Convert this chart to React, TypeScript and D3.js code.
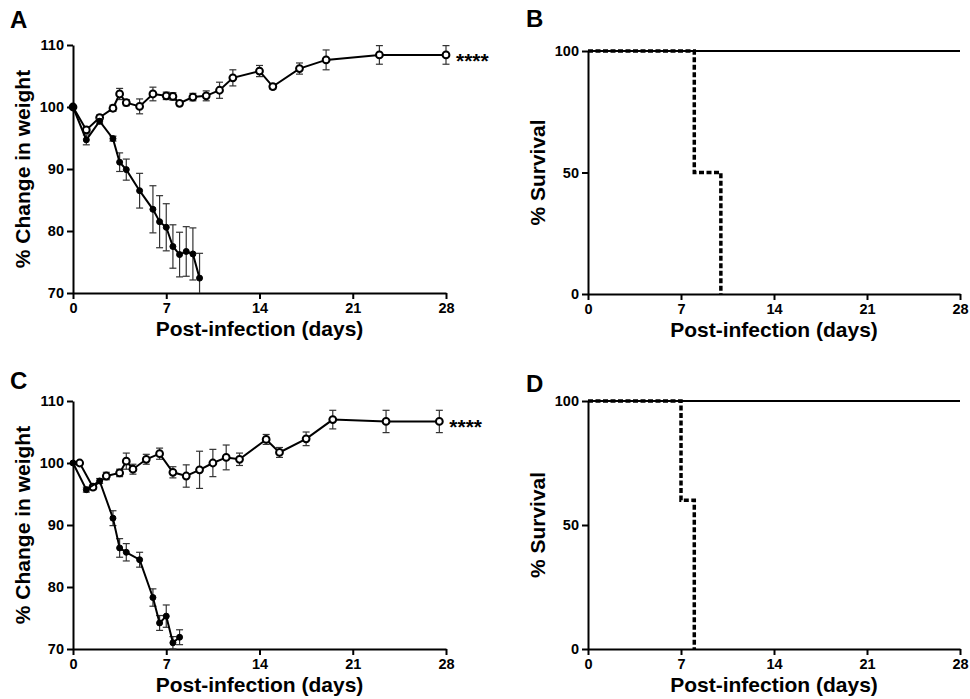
import React, { useEffect, useRef } from "react";
import * as d3 from "d3";

const W = 970;
const H = 699;
const FONT = "'Liberation Sans', Arial, Helvetica, sans-serif";

const dayTicks = [0, 7, 14, 21, 28];
const weightTicks = [70, 80, 90, 100, 110];
const survivalTicks = [0, 50, 100];

// panel A - weight, survivors (open) and non-survivors (filled)
const aOpenDays = [0, 1, 2, 3, 3.5, 4, 5, 6, 7, 7.5, 8, 9, 10, 11, 12, 14, 15, 17, 19, 23, 28];
const aOpenWeight = [100, 96.3, 98.3, 99.8, 102.1, 100.7, 100.1, 102.1, 101.8, 101.7, 100.6, 101.6, 101.8, 102.7, 104.7, 105.8, 103.3, 106.2, 107.6, 108.4, 108.4];
const aOpenSem = [0, 0.5, 0.4, 0.5, 0.9, 0.5, 1.2, 1.1, 0.6, 0.6, 0.4, 0.6, 0.8, 1.3, 1.3, 0.9, 0.4, 0.9, 1.6, 1.5, 1.5];

const aFilledDays = [0, 1, 2, 3, 3.5, 4, 5, 6, 6.5, 7, 7.5, 8, 8.5, 9, 9.5];
const aFilledWeight = [100, 94.7, 97.7, 94.9, 91.1, 89.9, 86.5, 83.5, 81.5, 80.6, 77.5, 76.2, 76.7, 76.3, 72.4];
const aFilledSem = [0, 0.8, 0.4, 0.4, 1.5, 1.7, 2.8, 3.8, 4.2, 3.8, 3.5, 3.6, 4.0, 4.2, 4.0];

// panel C
const cOpenDays = [0.5, 1.5, 2.5, 3.5, 4, 4.5, 5.5, 6.5, 7.5, 8.5, 9.5, 10.5, 11.5, 12.5, 14.5, 15.5, 17.5, 19.5, 23.5, 27.5];
const cOpenWeight = [100, 96.1, 97.9, 98.4, 100.3, 99.0, 100.6, 101.5, 98.5, 97.9, 98.9, 100.0, 100.9, 100.6, 103.8, 101.7, 103.9, 107.0, 106.7, 106.7];
const cOpenSem = [0, 0.4, 0.6, 0.6, 1.3, 0.8, 0.8, 0.9, 0.9, 1.8, 3.0, 2.2, 2.0, 1.0, 0.8, 0.8, 1.1, 1.5, 1.8, 1.8];

const cFilledDays = [0, 1, 2, 3, 3.5, 4, 5, 6, 6.5, 7, 7.5, 8];
const cFilledWeight = [100, 95.7, 97.1, 91.1, 86.3, 85.6, 84.4, 78.3, 74.2, 75.3, 71.0, 71.9];
const cFilledSem = [0, 0.4, 0.4, 1.2, 1.5, 1.4, 1.2, 1.4, 1.2, 1.8, 1.0, 1.2];

// survival curves (B and D)
const controlDays = [0, 28];
const controlSurvival = [100, 100];
const bDays = [0, 8, 10];
const bSurvival = [100, 50, 0];
const dDays = [0, 7, 8];
const dSurvival = [100, 60, 0];

const styleAxis = (g) => {
  g.select(".domain").attr("stroke", "#000").attr("stroke-width", 2);
  g.selectAll(".tick line").attr("stroke", "#000").attr("stroke-width", 2);
  g.selectAll(".tick text")
    .attr("fill", "#000")
    .attr("font-family", FONT)
    .attr("font-weight", "bold")
    .attr("font-size", 14.5);
};

function drawFrame(svg, box, x, y, yTicks, yTitle, letter, letterPos) {
  const g = svg.append("g");

  g.append("g")
    .attr("transform", `translate(0,${box.bottom})`)
    .call(d3.axisBottom(x).tickValues(dayTicks).tickSize(6).tickSizeOuter(0).tickPadding(4))
    .call(styleAxis);

  g.append("g")
    .attr("transform", `translate(${box.left},0)`)
    .call(d3.axisLeft(y).tickValues(yTicks).tickSize(6).tickSizeOuter(0).tickPadding(3))
    .call(styleAxis);

  g.append("text")
    .attr("x", (box.left + box.right) / 2)
    .attr("y", box.bottom + 43)
    .attr("text-anchor", "middle")
    .attr("font-family", FONT)
    .attr("font-weight", "bold")
    .attr("font-size", 21)
    .text("Post-infection (days)");

  g.append("text")
    .attr("transform", `translate(${box.left - 43},${(box.top + box.bottom) / 2}) rotate(-90)`)
    .attr("text-anchor", "middle")
    .attr("font-family", FONT)
    .attr("font-weight", "bold")
    .attr("font-size", 21)
    .text(yTitle);

  g.append("text")
    .attr("x", letterPos[0])
    .attr("y", letterPos[1])
    .attr("font-family", FONT)
    .attr("font-weight", "bold")
    .attr("font-size", 24)
    .text(letter);
}

function drawSeries(svg, x, y, days, mean, sem, open) {
  const [lo, hi] = y.domain();
  const clamp = (v) => Math.max(lo, Math.min(hi, v));
  const g = svg.append("g");
  const pts = days.map((d, i) => ({ d, m: mean[i], s: sem[i] }));

  const bars = g.append("g").attr("stroke", "#333").attr("stroke-width", 1.2);
  pts.filter((p) => p.s > 0).forEach((p) => {
    const cx = x(p.d);
    const top = p.m + p.s;
    const bot = p.m - p.s;
    bars.append("line").attr("x1", cx).attr("x2", cx).attr("y1", y(clamp(top))).attr("y2", y(clamp(bot)));
    if (top <= hi) bars.append("line").attr("x1", cx - 3.5).attr("x2", cx + 3.5).attr("y1", y(top)).attr("y2", y(top));
    if (bot >= lo) bars.append("line").attr("x1", cx - 3.5).attr("x2", cx + 3.5).attr("y1", y(bot)).attr("y2", y(bot));
  });

  const line = d3.line().x((p) => x(p.d)).y((p) => y(p.m));
  g.append("path")
    .attr("d", line(pts))
    .attr("fill", "none")
    .attr("stroke", "#000")
    .attr("stroke-width", 2);

  g.selectAll("circle")
    .data(pts)
    .join("circle")
    .attr("cx", (p) => x(p.d))
    .attr("cy", (p) => y(p.m))
    .attr("r", open ? 3.4 : 3)
    .attr("fill", open ? "#fff" : "#000")
    .attr("stroke", "#000")
    .attr("stroke-width", open ? 2 : 1);
}

function weightPanel(svg, box, open, filled, letter, letterPos) {
  const x = d3.scaleLinear().domain([0, 28]).range([box.left, box.right]);
  const y = d3.scaleLinear().domain([70, 110]).range([box.bottom, box.top]);
  drawFrame(svg, box, x, y, weightTicks, "% Change in weight", letter, letterPos);
  drawSeries(svg, x, y, open[0], open[1], open[2], true);
  drawSeries(svg, x, y, filled[0], filled[1], filled[2], false);

  const last = open[0].length - 1;
  svg.append("text")
    .attr("x", x(open[0][last]) + 10)
    .attr("y", y(open[1][last]) + 13)
    .attr("font-family", FONT)
    .attr("font-weight", "bold")
    .attr("font-size", 21)
    .text("****");
}

function survivalPanel(svg, box, days, surv, letter, letterPos) {
  const x = d3.scaleLinear().domain([0, 28]).range([box.left, box.right]);
  const y = d3.scaleLinear().domain([0, 100]).range([box.bottom, box.top]);
  drawFrame(svg, box, x, y, survivalTicks, "% Survival", letter, letterPos);

  const step = d3.line().curve(d3.curveStepAfter).x((p) => x(p[0])).y((p) => y(p[1]));
  svg.append("path")
    .attr("d", step(controlDays.map((d, i) => [d, controlSurvival[i]])))
    .attr("fill", "none")
    .attr("stroke", "#000")
    .attr("stroke-width", 2);
  svg.append("path")
    .attr("d", step(days.map((d, i) => [d, surv[i]])))
    .attr("fill", "none")
    .attr("stroke", "#000")
    .attr("stroke-width", 3.5)
    .attr("stroke-dasharray", "5 2.5");
}

export default function App() {
  const ref = useRef(null);

  useEffect(() => {
    document.body.style.margin = "0";
    const svg = d3.select(ref.current);
    svg.selectAll("*").remove();

    weightPanel(
      svg,
      { left: 73, right: 446, top: 45, bottom: 293 },
      [aOpenDays, aOpenWeight, aOpenSem],
      [aFilledDays, aFilledWeight, aFilledSem],
      "A",
      [10, 28]
    );
    survivalPanel(svg, { left: 588, right: 960, top: 51, bottom: 294 }, bDays, bSurvival, "B", [526, 27]);
    weightPanel(
      svg,
      { left: 73, right: 446, top: 401, bottom: 649 },
      [cOpenDays, cOpenWeight, cOpenSem],
      [cFilledDays, cFilledWeight, cFilledSem],
      "C",
      [10, 389]
    );
    survivalPanel(svg, { left: 588, right: 960, top: 401, bottom: 649 }, dDays, dSurvival, "D", [526, 392]);
  }, []);

  return (
    <svg ref={ref} width={W} height={H} style={{ display: "block", background: "#fff" }} />
  );
}
